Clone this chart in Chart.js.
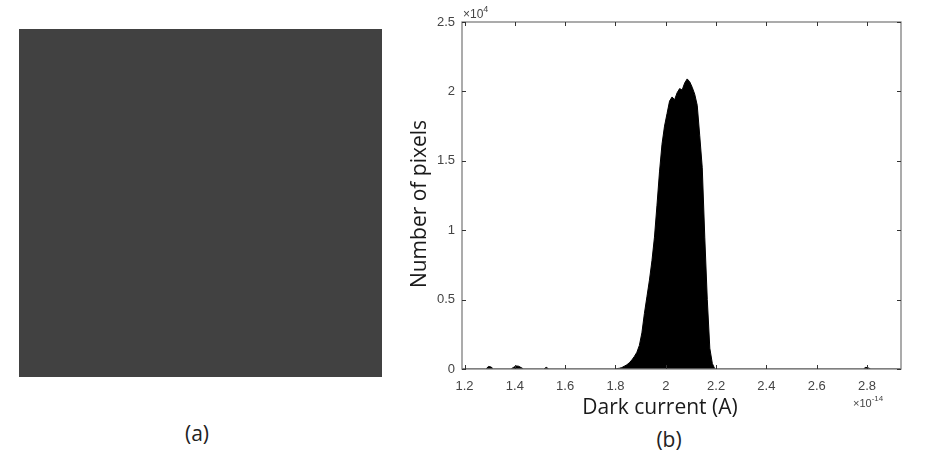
<!DOCTYPE html>
<html>
<head>
<meta charset="utf-8">
<script src="https://cdn.jsdelivr.net/npm/chart.js@4"></script>
<style>
  body { margin: 0; background: #fff; }
  #page { position: relative; width: 933px; height: 458px; overflow: hidden; }
  #image { position: absolute; left: 19px; top: 29px; width: 363px; height: 348px; background: #414141; }
  .cap { position: absolute; font-family: 'Open Sans', sans-serif; font-size: 21px; color: #222; transform: translate(-50%, -50%); }
  #chartBox { position: absolute; left: 390px; top: 0; width: 543px; height: 458px; }
</style>
</head>
<body>
<div id="page">
  <div id="image"></div>
  <div class="cap" style="left:197px; top:433px;">(a)</div>
  <div class="cap" style="left:669px; top:439px;">(b)</div>
  <div id="chartBox"><canvas id="myChart"></canvas></div>
</div>
<script>
// histogram bins (dark current, x1e-14 A) and counts (x1e4 pixels)
var binCenters = [1.19,
    1.285, 1.295, 1.305, 1.315,
    1.385, 1.395, 1.405, 1.415, 1.425, 1.435,
    1.515, 1.525, 1.535,
    1.795, 1.805, 1.815, 1.825, 1.835, 1.845, 1.855, 1.865, 1.875, 1.885, 1.895,
    1.905, 1.915, 1.925, 1.935, 1.945, 1.955, 1.965, 1.975, 1.985, 1.995,
    2.005, 2.015, 2.025, 2.035, 2.045, 2.055, 2.065, 2.075, 2.085, 2.095,
    2.105, 2.115, 2.125, 2.135, 2.145, 2.155, 2.165, 2.175, 2.185, 2.195,
    2.785, 2.795, 2.805, 2.815,
    2.935];
var counts = [0,
    0, 0.018, 0.015, 0,
    0, 0.012, 0.022, 0.02, 0.01, 0,
    0, 0.012, 0,
    0, 0.003, 0.005, 0.01, 0.02, 0.03, 0.045, 0.065, 0.09, 0.12, 0.17,
    0.26, 0.40, 0.52, 0.64, 0.78, 0.95, 1.18, 1.42, 1.62, 1.75,
    1.84, 1.93, 1.96, 1.94, 1.99, 2.02, 2.01, 2.06, 2.09, 2.07,
    2.03, 1.98, 1.90, 1.68, 1.45, 0.95, 0.50, 0.15, 0.04, 0,
    0, 0.012, 0.008, 0,
    0];
var xTickStep = 0.2;
var yTickStep = 0.5;

var tickFont = { family: "'Liberation Sans', Arial, sans-serif", size: 13 };
var tickColor = '#444';
var titleFont = "21px 'Open Sans', sans-serif";

// box around the plot, inward tick marks and the text around it, matlab style
var boxPlugin = {
    id: 'box',
    afterDatasetsDraw: function(chart) {
        var ctx = chart.ctx;
        var a = chart.chartArea;
        var xs = chart.scales.x, ys = chart.scales.y;
        ctx.save();
        ctx.strokeStyle = '#7f7f7f';
        ctx.lineWidth = 1.3;
        ctx.strokeRect(a.left, a.top, a.right - a.left, a.bottom - a.top);
        ctx.strokeStyle = '#333';
        ctx.lineWidth = 1;
        ctx.beginPath();
        xs.ticks.forEach(function(t) {
            var px = Math.round(xs.getPixelForValue(t.value)) + 0.5;
            ctx.moveTo(px, a.bottom); ctx.lineTo(px, a.bottom - 4);
            ctx.moveTo(px, a.top); ctx.lineTo(px, a.top + 4);
        });
        ys.ticks.forEach(function(t) {
            var py = Math.round(ys.getPixelForValue(t.value)) + 0.5;
            ctx.moveTo(a.left, py); ctx.lineTo(a.left + 4, py);
            ctx.moveTo(a.right, py); ctx.lineTo(a.right - 4, py);
        });
        ctx.stroke();

        // exponent labels
        ctx.fillStyle = tickColor;
        ctx.textBaseline = 'alphabetic';
        ctx.textAlign = 'left';
        ctx.font = "12px 'Liberation Sans', Arial, sans-serif";
        ctx.fillText('\u00d710', a.left + 1, a.top - 4);
        var w = ctx.measureText('\u00d710').width;
        ctx.font = "9px 'Liberation Sans', Arial, sans-serif";
        ctx.fillText('4', a.left + 1 + w, a.top - 10);

        ctx.font = "11px 'Liberation Sans', Arial, sans-serif";
        ctx.fillText('\u00d710', a.right - 48, 407);
        w = ctx.measureText('\u00d710').width;
        ctx.font = "8px 'Liberation Sans', Arial, sans-serif";
        ctx.fillText('-14', a.right - 48 + w, 401);

        // axis titles (offset from the axis centre as in the original)
        ctx.fillStyle = '#1a1a1a';
        ctx.font = titleFont;
        ctx.textAlign = 'center';
        ctx.textBaseline = 'middle';
        ctx.fillText('Dark current (A)', chart.canvas.offsetLeft + 270, 408);
        ctx.translate(30, 204);
        ctx.rotate(-Math.PI / 2);
        ctx.fillText('Number of pixels', 0, 0);
        ctx.restore();
    }
};

var data = binCenters.map(function(x, i) { return { x: x, y: counts[i] }; });

var ctx = document.getElementById('myChart').getContext('2d');
var chart = new Chart(ctx, {
    type: 'line',
    data: {
        datasets: [{
            label: 'Number of pixels',
            data: data,
            fill: 'origin',
            tension: 0,
            backgroundColor: '#000',
            borderColor: '#000',
            borderWidth: 1,
            pointRadius: 0
        }]
    },
    options: {
        responsive: true,
        maintainAspectRatio: false,
        animation: false,
        layout: { padding: { left: 0, top: 22, right: 32, bottom: 29 } },
        plugins: {
            legend: { display: false },
            tooltip: { enabled: false }
        },
        scales: {
            x: {
                type: 'linear',
                min: 1.19,
                max: 2.935,
                grid: { display: false, drawTicks: false },
                border: { display: false },
                ticks: {
                    stepSize: xTickStep,
                    includeBounds: false,
                    maxRotation: 0,
                    padding: 10,
                    color: tickColor,
                    font: tickFont,
                    callback: function(v) { return String(+v.toFixed(1)); }
                },
                afterFit: function(scale) { scale.height = 60; }
            },
            y: {
                min: 0,
                max: 2.5,
                grid: { display: false, drawTicks: false },
                border: { display: false },
                ticks: {
                    stepSize: yTickStep,
                    padding: 7,
                    color: tickColor,
                    font: tickFont,
                    callback: function(v) { return String(+v.toFixed(1)); }
                },
                afterFit: function(scale) { scale.width = 72; }
            }
        }
    },
    plugins: [boxPlugin]
});
</script>
</body>
</html>
